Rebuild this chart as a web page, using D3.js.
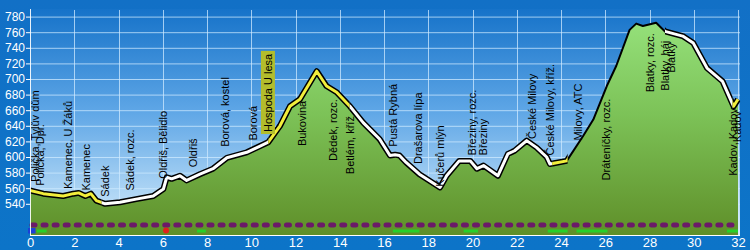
<!DOCTYPE html>
<html>
<head>
<meta charset="utf-8">
<script src="https://cdn.jsdelivr.net/npm/d3@7/dist/d3.min.js"></script>
<style>
  body { margin: 0; background: #0b72c6; }
  svg { display: block; }
</style>
</head>
<body>
<div id="chart"></div>
<script>
// elevation profile (km, m)
const profileKm = [0, 0.6, 1.5, 1.96, 2.2, 2.5, 2.75, 3.0, 3.4, 4.07, 4.8, 5.57, 6.03, 6.18, 6.4, 6.78, 7.08, 7.68, 8.27, 8.9,
  9.8, 10.4, 10.77, 11.3, 11.75, 12.2, 12.96, 13.4, 13.86, 14.46, 15.06, 15.8, 16.27, 16.5, 16.7, 17.0, 17.6, 18.53, 18.83, 19.4,
  19.9, 20.2, 20.5, 21.15, 21.6, 21.9, 22.45, 22.9, 23.35, 23.5, 24.26, 25.0, 25.46, 26.07, 26.5, 27.1, 27.4, 27.7, 28.3, 28.7,
  29.5, 29.98, 30.6, 31.3, 31.8, 32.0];
const profileAlt = [557, 553, 550, 553, 554, 550, 553, 544, 540, 542, 546, 550, 559, 574, 572, 576, 570, 578, 585, 599,
  606, 614, 619, 640, 665, 674, 710, 691, 683, 665, 644, 623, 602, 603, 602, 593, 578, 561, 576, 595,
  595, 585, 589, 576, 604, 608, 621, 612, 600, 591, 595, 627, 648, 691, 717, 763, 771, 768, 772, 761,
  755, 746, 714, 697, 665, 674];

// waypoint labels
const labelNames = ['Polička, Tylův dům', 'Polička, Dpr.', 'Kamenec, U Žáků', 'Kamenec', 'Sádek', 'Sádek, rozc.',
  'Oldřiš, Bělidlo', 'Oldřiš', 'Borová, kostel', 'Borová', 'Hospoda U lesa', 'Bukovina', 'Dědek, rozc.', 'Betlém, kříž',
  'Pustá Rybná', 'Drašarova lípa', 'Kučerů mlýn', 'Březiny, rozc.', 'Březiny', 'České Milovy', 'České Milovy, kříž.',
  'Milovy, ATC', 'Dráteníčky, rozc.', 'Blatky, rozc.', 'Blatky, háj', 'Blatky', 'Kadov, Kadov', 'Kadov'];
const labelKm = [0.23, 0.45, 1.72, 2.53, 3.39, 4.52, 6.01, 7.37, 8.81, 10.07, 10.76, 12.28, 13.69, 14.46,
  16.41, 17.54, 18.53, 20.0, 20.47, 22.68, 23.5, 24.77, 26.06, 28.02, 28.7, 29.0, 31.77, 31.95];
const labelAlt = [568, 563, 559, 557, 549, 557, 572, 587, 613, 621, 632, 614, 595, 578,
  613, 591, 562, 602, 602, 623, 602, 621, 570, 683, 685, 708, 576, 619];
const highlighted = ['Hospoda U lesa'];

// coloured parts of the route line
const segFrom = [0, 3.24, 10.77, 14.45, 23.6, 28.7, 31.75];
const segTo = [3.24, 10.77, 14.45, 23.6, 24.3, 31.75, 32.1];
const segColor = ['#f2ee3c', '#ffffff', '#f2ee3c', '#ffffff', '#f2ee3c', '#ffffff', '#f2ee3c'];

// marker strip below the profile
const markFrom = [0.3, 7.55, 16.4, 19.6, 23.4, 24.7, 31.5];
const markTo = [0.75, 7.95, 17.6, 20.25, 24.3, 26.1, 32];
const blueMark = [0, 0.25];
const redMark = [6.15];

const xTicks = d3.range(0, 33, 2);
const yTicks = d3.range(540, 781, 20);

const W = 750, H = 250;
const x = d3.scaleLinear().domain([0, 32]).range([30, 738]);
const y = d3.scaleLinear().domain([500, 790]).range([235, 8.8]);
const plotL = 30, plotR = 740, plotT = 9, plotB = 235;

const svg = d3.select('#chart').append('svg').attr('width', W).attr('height', H);
const defs = svg.append('defs');

const bgGrad = defs.append('linearGradient').attr('id', 'bgGrad')
  .attr('x1', 0).attr('y1', 0).attr('x2', 0).attr('y2', 1);
bgGrad.append('stop').attr('offset', 0).attr('stop-color', '#1270c6');
bgGrad.append('stop').attr('offset', 1).attr('stop-color', '#0c74c8');

const plotGrad = defs.append('linearGradient').attr('id', 'plotGrad')
  .attr('gradientUnits', 'userSpaceOnUse').attr('x1', 0).attr('y1', plotT).attr('x2', 0).attr('y2', plotB);
plotGrad.append('stop').attr('offset', 0).attr('stop-color', '#1673c9');
plotGrad.append('stop').attr('offset', 0.45).attr('stop-color', '#5ea6e6');
plotGrad.append('stop').attr('offset', 1).attr('stop-color', '#d8eefc');

const greenGrad = defs.append('linearGradient').attr('id', 'greenGrad')
  .attr('gradientUnits', 'userSpaceOnUse').attr('x1', 0).attr('y1', 17).attr('x2', 0).attr('y2', plotB);
greenGrad.append('stop').attr('offset', 0).attr('stop-color', '#96e27c');
greenGrad.append('stop').attr('offset', 0.45).attr('stop-color', '#7cc257');
greenGrad.append('stop').attr('offset', 1).attr('stop-color', '#5f8f29');

svg.append('rect').attr('width', W).attr('height', H).attr('fill', 'url(#bgGrad)');
svg.append('rect').attr('x', plotL).attr('y', plotT).attr('width', plotR - plotL).attr('height', plotB - plotT)
  .attr('fill', 'url(#plotGrad)');

// grid
svg.append('g').selectAll('line').data(yTicks).join('line')
  .attr('x1', plotL).attr('x2', plotR).attr('y1', d => y(d) + 0.5).attr('y2', d => y(d) + 0.5)
  .attr('stroke', '#cfe9ff').attr('stroke-opacity', 0.75).attr('stroke-width', 1);
svg.append('g').selectAll('line').data(xTicks.slice(1)).join('line')
  .attr('x1', d => Math.round(x(d)) + 0.5).attr('x2', d => Math.round(x(d)) + 0.5)
  .attr('y1', plotT + 1).attr('y2', plotB)
  .attr('stroke', '#cfe9ff').attr('stroke-opacity', 0.75).attr('stroke-width', 1);

const pts = profileKm.map((k, i) => [k, profileAlt[i]]);
const area = d3.area().x(d => x(d[0])).y0(plotB).y1(d => y(d[1]));
const line = d3.line().x(d => x(d[0])).y(d => y(d[1]));

svg.append('path').attr('d', area(pts)).attr('fill', 'url(#greenGrad)');

// route line: thin black everywhere, thick outlined coloured parts clipped by km ranges
svg.append('path').attr('d', line(pts)).attr('fill', 'none')
  .attr('stroke', '#000').attr('stroke-width', 2).attr('stroke-linejoin', 'round');
segFrom.forEach((f, i) => {
  defs.append('clipPath').attr('id', 'seg' + i).append('rect')
    .attr('x', x(f)).attr('y', 0).attr('width', x(segTo[i]) - x(f)).attr('height', H);
});
segFrom.forEach((f, i) => {
  svg.append('path').attr('d', line(pts)).attr('clip-path', `url(#seg${i})`).attr('fill', 'none')
    .attr('stroke', '#000').attr('stroke-width', 6).attr('stroke-linejoin', 'round');
});
segFrom.forEach((f, i) => {
  svg.append('path').attr('d', line(pts)).attr('clip-path', `url(#seg${i})`).attr('fill', 'none')
    .attr('stroke', segColor[i]).attr('stroke-width', 3).attr('stroke-linejoin', 'round');
});

// labels
const labels = svg.append('g').attr('font-family', 'Liberation Sans, Arial, sans-serif')
  .attr('font-size', 11).attr('fill', '#000');
labelNames.forEach((name, i) => {
  const t = labels.append('text')
    .attr('transform', `translate(${x(labelKm[i])},${y(labelAlt[i])}) rotate(-90)`)
    .attr('dy', '0.35em').text(name);
  if (highlighted.includes(name)) {
    const bb = t.node().getBBox();
    labels.insert('rect', () => t.node())
      .attr('transform', `translate(${x(labelKm[i])},${y(labelAlt[i])}) rotate(-90)`)
      .attr('x', bb.x - 2).attr('y', bb.y - 1).attr('width', bb.width + 4).attr('height', bb.height + 2)
      .attr('fill', '#b3bd2c');
  }
});

// strip of dots and markers
svg.append('line').attr('x1', x(0) + 2).attr('x2', x(32)).attr('y1', 225).attr('y2', 225)
  .attr('stroke', '#6b1a68').attr('stroke-width', 5).attr('stroke-linecap', 'round')
  .attr('stroke-dasharray', `3,${(x(0.5) - x(0)) - 3}`);
svg.append('g').selectAll('rect').data(markFrom).join('rect')
  .attr('x', d => x(d)).attr('width', (d, i) => x(markTo[i]) - x(d))
  .attr('y', 229.5).attr('height', 3).attr('fill', '#27d02a');
svg.append('rect').attr('x', x(blueMark[0]) - 2).attr('width', x(blueMark[1]) - x(blueMark[0]) + 2)
  .attr('y', 228).attr('height', 5.5).attr('fill', '#1b3fd8');
svg.selectAll('circle.red').data(redMark).join('circle').attr('class', 'red')
  .attr('cx', d => x(d)).attr('cy', 230.5).attr('r', 3).attr('fill', '#e0231a');

// axes
const axisG = svg.append('g').attr('font-family', 'Liberation Sans Narrow, Arial Narrow, Liberation Sans, sans-serif');
const yAxis = axisG.append('g').attr('transform', `translate(${plotL},0)`)
  .call(d3.axisLeft(y).tickValues(yTicks).tickSize(4).tickPadding(1).tickSizeOuter(0));
yAxis.select('.domain').remove();
axisG.append('line').attr('x1', plotL + 0.5).attr('x2', plotL + 0.5).attr('y1', plotT).attr('y2', plotB)
  .attr('stroke', '#ffffff').attr('stroke-opacity', 0.9);
yAxis.selectAll('line').attr('stroke', '#fff');
yAxis.selectAll('text').attr('fill', '#fff').attr('font-size', 12)
  .attr('font-family', 'Liberation Sans, Arial, sans-serif');

const xAxis = axisG.append('g').attr('transform', `translate(0,${plotB})`)
  .call(d3.axisBottom(x).tickValues(xTicks).tickSize(0).tickPadding(3).tickSizeOuter(0));
xAxis.select('.domain').attr('stroke', '#fff').attr('d', `M${plotL},0.5H${plotR}`);
xAxis.selectAll('text').attr('fill', '#fff').attr('font-size', 13);
</script>
</body>
</html>
